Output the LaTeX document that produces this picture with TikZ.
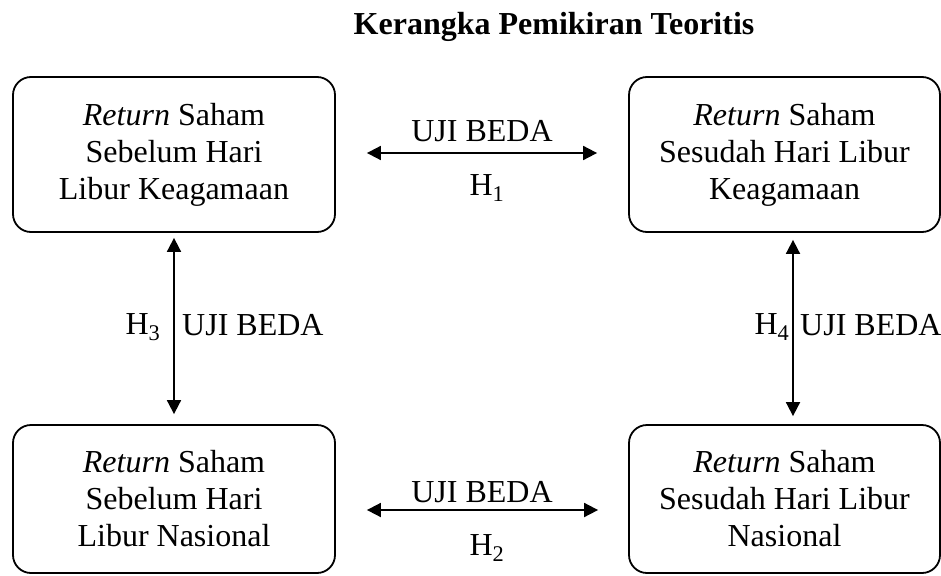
\documentclass[tikz,border=0pt]{standalone}
\usepackage{fontspec}
\setmainfont{Liberation Serif}
\usetikzlibrary{arrows.meta}
\begin{document}
\begin{tikzpicture}[x=1pt,y=-1pt,
  every node/.style={font=\fontsize{32}{37}\selectfont, inner sep=0pt},
  box/.style={draw, line width=1.8pt, rounded corners=18pt, align=center},
  link/.style={line width=1.8pt, {Triangle[width=14pt,length=14pt]}-{Triangle[width=14pt,length=14pt]}}]
\useasboundingbox (0,0) rectangle (941,575);
\node[font=\bfseries\fontsize{32}{37}\selectfont, anchor=base] (title) at (554,35) {Kerangka Pemikiran Teoritis};
\node[box, minimum width=322pt, minimum height=155pt] (tl) at (174,154.5) {\textit{Return} Saham\\Sebelum Hari\\Libur Keagamaan};
\node[box, minimum width=311pt, minimum height=155pt] (tr) at (784.5,154.5) {\textit{Return} Saham\\Sesudah Hari Libur\\Keagamaan};
\node[box, minimum width=322pt, minimum height=148pt] (bl) at (174,499) {\textit{Return} Saham\\Sebelum Hari\\Libur Nasional};
\node[box, minimum width=311pt, minimum height=148pt] (br) at (784.5,499) {\textit{Return} Saham\\Sesudah Hari Libur\\Nasional};
\draw[link] ([shift={(31pt,1.5pt)}]tl.east) -- ([shift={(-31pt,1.5pt)}]tr.west);
\draw[link] ([shift={(31pt,-11pt)}]bl.east) -- ([shift={(-30pt,-11pt)}]br.west);
\draw[link] ([yshift=-5pt]tl.south) -- ([yshift=10pt]bl.north);
\draw[link] ([shift={(8.5pt,-7pt)}]tr.south) -- ([shift={(8.5pt,8pt)}]br.north);
\node (u1) at (482,131) {UJI BEDA};
\node (h1) at (487,188) {H\textsubscript{1}};
\node (u2) at (482,492) {UJI BEDA};
\node (h2) at (487,548) {H\textsubscript{2}};
\node (h3) at (143,327) {H\textsubscript{3}};
\node[anchor=west] (u3) at (182,325) {UJI BEDA};
\node (h4) at (772,327) {H\textsubscript{4}};
\node[anchor=west] (u4) at (800,325) {UJI BEDA};
\end{tikzpicture}
\end{document}
